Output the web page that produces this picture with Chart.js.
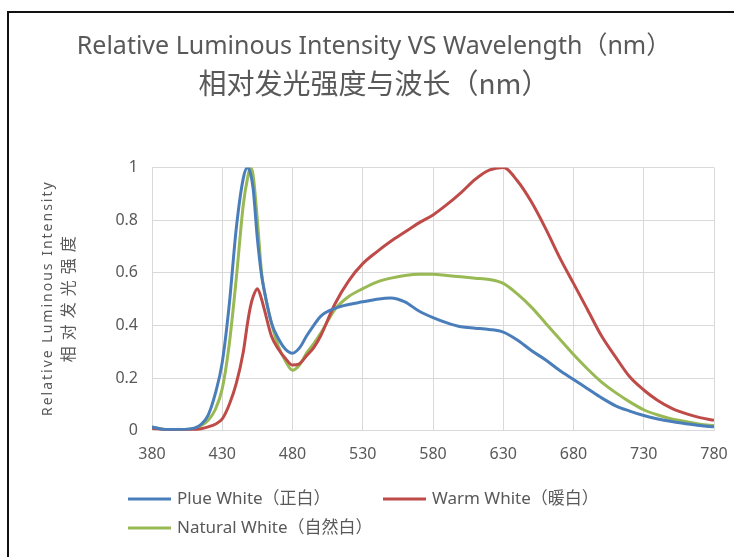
<!DOCTYPE html>
<html>
<head>
<meta charset="utf-8">
<script src="https://cdn.jsdelivr.net/npm/chart.js@4.4.0/dist/chart.umd.min.js"></script>
<style>
html,body{margin:0;padding:0;background:#fff;overflow:hidden}
#frame{position:absolute;left:7px;top:11px;width:760px;height:600px;border-top:2px solid #111;border-left:2px solid #111}
#wrap{position:absolute;left:0;top:0;width:734px;height:557px}
</style>
</head>
<body>
<div id="frame"></div>
<div id="wrap"><canvas id="myChart"></canvas></div>
<script>
// 光谱数据
const wavelengths = [380, 390, 400, 410, 415, 420, 425, 430, 435, 440, 445, 448, 450, 452, 455, 458, 460, 465, 470, 475,
  480, 485, 490, 495, 500, 510, 520, 530, 540, 550, 560, 570, 580, 590, 600, 610, 620, 630, 640, 650,
  660, 670, 680, 690, 700, 710, 720, 730, 740, 750, 760, 770, 780];
const plueWhite = [0.015, 0.005, 0.005, 0.01, 0.025, 0.06, 0.14, 0.26, 0.48, 0.77, 0.96, 1.0, 0.98, 0.92, 0.73, 0.59, 0.53, 0.41, 0.35, 0.31,
  0.295, 0.315, 0.36, 0.4, 0.435, 0.465, 0.48, 0.49, 0.5, 0.505, 0.49, 0.455, 0.43, 0.41, 0.395, 0.39, 0.385, 0.375, 0.345, 0.305,
  0.27, 0.23, 0.195, 0.16, 0.125, 0.095, 0.075, 0.058, 0.045, 0.035, 0.027, 0.02, 0.015];
const warmWhite = [0.01, 0.005, 0.003, 0.004, 0.008, 0.015, 0.025, 0.045, 0.1, 0.18, 0.3, 0.41, 0.47, 0.51, 0.54, 0.5, 0.46, 0.36, 0.31, 0.275,
  0.25, 0.255, 0.285, 0.315, 0.36, 0.48, 0.57, 0.635, 0.68, 0.72, 0.755, 0.79, 0.82, 0.86, 0.905, 0.955, 0.99, 1.0, 0.95, 0.87,
  0.77, 0.66, 0.56, 0.46, 0.36, 0.28, 0.205, 0.155, 0.115, 0.085, 0.065, 0.05, 0.04];
const naturalWhite = [0.015, 0.005, 0.005, 0.008, 0.02, 0.04, 0.08, 0.16, 0.33, 0.58, 0.86, 0.96, 1.0, 0.97, 0.8, 0.6, 0.53, 0.41, 0.32, 0.265,
  0.23, 0.25, 0.295, 0.33, 0.37, 0.46, 0.51, 0.54, 0.565, 0.58, 0.59, 0.595, 0.595, 0.59, 0.585, 0.58, 0.575, 0.56, 0.52, 0.47,
  0.41, 0.35, 0.29, 0.235, 0.185, 0.145, 0.11, 0.08, 0.06, 0.045, 0.035, 0.025, 0.02];
const seriesNames = ["Plue White（正白）", "Warm White（暖白）", "Natural White（自然白）"];
const xTicks = [380, 430, 480, 530, 580, 630, 680, 730, 780];
const yTicks = [0, 0.2, 0.4, 0.6, 0.8, 1];
const yTitle = ["Relative Luminous Intensity", "相对发光强度"];

const FONT = '"Noto Sans", "Noto Sans CJK SC", sans-serif';
const TEXT = '#595959';
const GRID = '#d9d9d9';

const pts = arr => wavelengths.map((w, i) => ({x: w, y: arr[i]}));

// legend drawn by hand so the rows line up like the Excel one
const legendSpots = [[128, 499], [383, 499], [128, 528]];
const customLegend = {
  id: 'customLegend',
  afterDraw(chart) {
    const ctx = chart.ctx;
    ctx.save();
    ctx.font = '17px ' + FONT;
    ctx.textBaseline = 'middle';
    chart.data.datasets.forEach((ds, i) => {
      const [x, y] = legendSpots[i];
      ctx.strokeStyle = ds.borderColor;
      ctx.lineWidth = 3;
      ctx.beginPath();
      ctx.moveTo(x, y);
      ctx.lineTo(x + 43, y);
      ctx.stroke();
      ctx.fillStyle = TEXT;
      ctx.fillText(ds.label, x + 49, y);
    });
    ctx.restore();
  }
};

// rotated y title, spaced out like Excel does it
const yTitlePlugin = {
  id: 'yTitlePlugin',
  afterDraw(chart) {
    const ctx = chart.ctx;
    const cy = (chart.chartArea.top + chart.chartArea.bottom) / 2;
    const lines = [[yTitle[0], 48, 14, 2], [yTitle[1], 69, 16, 6]];
    ctx.save();
    ctx.fillStyle = TEXT;
    ctx.textAlign = 'center';
    ctx.textBaseline = 'middle';
    lines.forEach(([txt, x, size, sp]) => {
      ctx.save();
      ctx.font = size + 'px ' + FONT;
      ctx.letterSpacing = sp + 'px';
      ctx.translate(x, cy);
      ctx.rotate(-Math.PI / 2);
      ctx.fillText(txt, sp / 2, 0);
      ctx.restore();
    });
    ctx.restore();
  }
};

// the full-width ） leaves blank space at the end, nudge the titles right
const titleNudge = {
  id: 'titleNudge',
  afterLayout(chart) {
    chart.boxes.forEach(b => {
      if (!b.axis && b.options && typeof b.options.text === 'string') {
        b.left += 17;
        b.right += 17;
      }
    });
  }
};

new Chart("myChart", {
  type: "line",
  data: {
    datasets: [
      {label: seriesNames[0], data: pts(plueWhite), borderColor: '#4a7ebb'},
      {label: seriesNames[1], data: pts(warmWhite), borderColor: '#be4b48'},
      {label: seriesNames[2], data: pts(naturalWhite), borderColor: '#98b954'}
    ].map(d => Object.assign(d, {borderWidth: 3, pointRadius: 0, cubicInterpolationMode: 'monotone', fill: false}))
  },
  options: {
    responsive: true,
    maintainAspectRatio: false,
    animation: false,
    layout: {padding: {left: 0, right: 20, top: 0, bottom: 79}},
    plugins: {
      legend: {display: false},
      tooltip: {enabled: false},
      title: {
        display: true,
        text: "Relative Luminous Intensity VS Wavelength（nm）",
        color: TEXT,
        font: {family: FONT, size: 25, weight: 'normal'},
        padding: {top: 32, bottom: 2}
      },
      subtitle: {
        display: true,
        text: "相对发光强度与波长（nm）",
        color: TEXT,
        font: {family: '"Noto Sans CJK SC", ' + FONT, size: 28, weight: 'normal'},
        padding: {top: 3, bottom: 67}
      }
    },
    scales: {
      x: {
        type: 'linear',
        min: 380,
        max: 780,
        afterBuildTicks: s => { s.ticks = xTicks.map(v => ({value: v})); },
        afterFit: s => { s.paddingLeft = 0; s.paddingRight = 0; },
        grid: {color: GRID, drawTicks: false},
        border: {color: GRID},
        ticks: {color: TEXT, font: {family: FONT, size: 16}, padding: 14, maxRotation: 0}
      },
      y: {
        min: 0,
        max: 1,
        afterBuildTicks: s => { s.ticks = yTicks.map(v => ({value: v})); },
        afterFit: s => { s.width = 152; },
        grid: {color: GRID, drawTicks: false},
        border: {display: false},
        ticks: {color: TEXT, font: {family: FONT, size: 16}, padding: 14, callback: v => String(v)}
      }
    }
  },
  plugins: [customLegend, yTitlePlugin, titleNudge]
});
</script>
</body>
</html>
